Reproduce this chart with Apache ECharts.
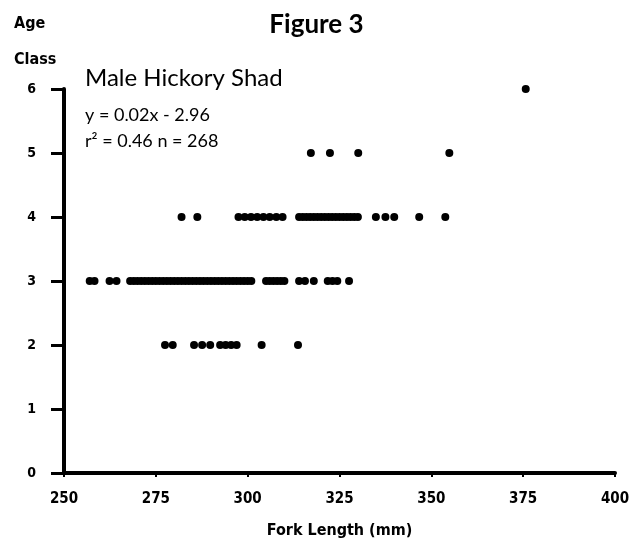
<!DOCTYPE html>
<html>
<head>
<meta charset="utf-8">
<title>Figure 3 - Male Hickory Shad</title>
<script src="https://cdn.jsdelivr.net/npm/echarts@6/dist/echarts.min.js"></script>
<style>
  html, body { margin: 0; padding: 0; background: #fff; }
  #chart { width: 633px; height: 540px; }
</style>
</head>
<body>
<div id="chart"></div>
<script>
// fork length (mm) of each fish, grouped by age class
const age2 = [277.5, 279.6, 285.4, 287.6, 289.8, 292.5, 294, 295.5, 297, 303.8, 313.7]
const age3 = [257, 258.3, 262.4, 264.3,
  268, 269, 270, 271, 272, 273, 274, 275, 276, 277, 278, 279, 280, 281, 282, 283, 284,
  285, 286, 287, 288, 289, 290, 291, 292, 293, 294, 295, 296, 297, 298, 299, 300, 301,
  305, 306, 307, 308, 309, 310, 314, 315.6, 318, 321.8, 323.1, 324.4, 327.6]
const age4 = [282, 286.3, 297.5, 299.2, 300.9, 302.6, 304.3, 306, 307.8, 309.5,
  314, 315, 316, 317, 318, 319, 320, 321, 322, 323, 324, 325, 326, 327, 328, 329, 330,
  334.9, 337.5, 339.9, 346.7, 353.8]
const age5 = [317.2, 322.4, 330.1, 354.9]
const age6 = [375.7]

const xTicks = [250, 275, 300, 325, 350, 375, 400]
const yTicks = [0, 1, 2, 3, 4, 5, 6]

const labelFont = '"DejaVu Sans Condensed", "Liberation Sans Narrow", sans-serif'
const textFont = '"Lato", "DejaVu Sans", sans-serif'

// one flat list of [length, age] pairs
const points = []
;[[2, age2], [3, age3], [4, age4], [5, age5], [6, age6]].forEach(([age, list]) => {
  list.forEach(len => points.push([len, age]))
})

const chart = echarts.init(document.getElementById('chart'))

chart.setOption({
  animation: false,
  backgroundColor: '#fff',
  grid: { left: 64, right: 18, top: 89, bottom: 67, outerBoundsMode: 'none' },
  xAxis: {
    type: 'value',
    min: xTicks[0],
    max: xTicks[xTicks.length - 1],
    interval: 25,
    name: 'Fork Length (mm)',
    nameLocation: 'middle',
    nameGap: 50,
    nameTextStyle: { color: '#000', fontSize: 16, fontWeight: 'bold', fontFamily: labelFont },
    axisLine: { onZero: false, lineStyle: { color: '#000', width: 4 } },
    axisTick: { length: 4, lineStyle: { color: '#000', width: 2 } },
    axisLabel: { color: '#000', fontSize: 15, fontWeight: 'bold', fontFamily: labelFont, margin: 19 },
    splitLine: { show: false }
  },
  yAxis: {
    type: 'value',
    min: yTicks[0],
    max: yTicks[yTicks.length - 1],
    interval: 1,
    axisLine: { onZero: false, lineStyle: { color: '#000', width: 4 } },
    axisTick: { length: 13, lineStyle: { color: '#000', width: 3 } },
    axisLabel: { color: '#000', fontSize: 14, fontWeight: 'bold', fontFamily: labelFont, margin: 28 },
    splitLine: { show: false }
  },
  graphic: [
    { type: 'text', left: 'center', top: 12,
      style: { text: 'Figure 3', fill: '#000', font: 'bold 26px ' + textFont } },
    { type: 'text', left: 14, top: 16,
      style: { text: 'Age', fill: '#000', font: 'bold 16px ' + labelFont } },
    { type: 'text', left: 14, top: 52,
      style: { text: 'Class', fill: '#000', font: 'bold 16px ' + labelFont } },
    { type: 'text', left: 85, top: 66,
      style: { text: 'Male Hickory Shad', fill: '#000', font: '24px ' + textFont } },
    { type: 'text', left: 85, top: 106,
      style: { text: 'y = 0.02x - 2.96', fill: '#000', font: '18px ' + textFont } },
    { type: 'text', left: 85, top: 132,
      style: { text: 'r² = 0.46 n = 268', fill: '#000', font: '18px ' + textFont } }
  ],
  series: [{
    type: 'scatter',
    data: points,
    symbol: 'circle',
    symbolSize: 8,
    itemStyle: { color: '#000', opacity: 1 }
  }]
})
</script>
</body>
</html>
